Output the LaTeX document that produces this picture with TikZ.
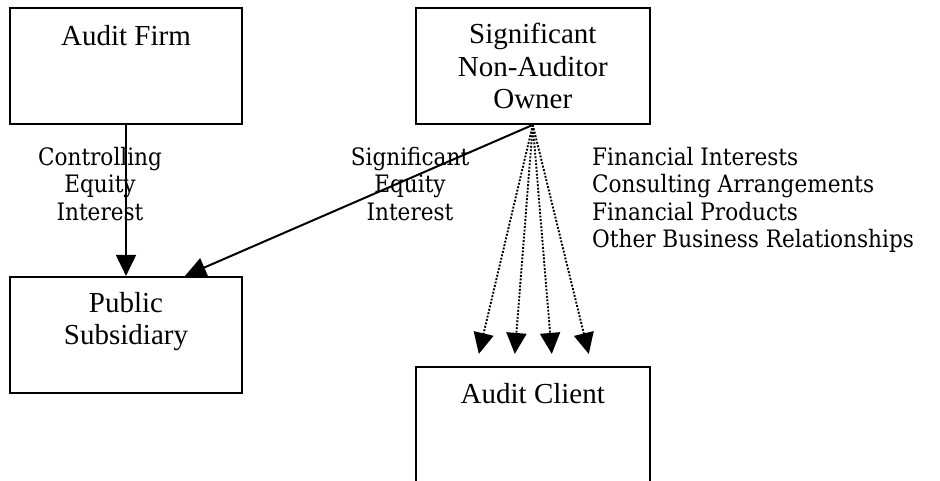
\documentclass[tikz,border=0pt]{standalone}
\usepackage{fontspec}
\usetikzlibrary{positioning,arrows.meta}
\newfontfamily\boxfont{Liberation Serif}
\newfontfamily\relfont{DejaVu Serif Condensed}

\tikzset{
    entity/.style={draw, line width=1.8pt, inner sep=0pt, minimum height=116pt,
      align=center, font=\boxfont\fontsize{29}{32.5}\selectfont},
    toptext/.style={text height=37pt, text depth=79pt},
    rel/.style={align=center, inner sep=0pt, font=\relfont\fontsize{24}{27.5}\selectfont},
    owns/.style={-{Triangle[width=20pt,length=21pt]}, line width=2pt},
    ties/.style={owns, line width=1.9pt, dash pattern=on 1.9pt off 1.6pt}
}

\begin{document}
\begin{tikzpicture}[x=1pt, y=-1pt]
    \useasboundingbox (0,0) rectangle (940,480);
    \node[entity, toptext, minimum width=232pt](firm) at (126,66){Audit Firm};
    \node[entity, minimum width=234pt, right=172pt of firm](owner){Significant\\Non-Auditor\\Owner};
    \node[entity, text height=68pt, text depth=48pt, minimum width=232pt, below=151pt of firm](subsid){Public\\Subsidiary};
    \node[entity, toptext, minimum width=234pt, below=241pt of owner](client){Audit Client};
    \foreach \dx [count=\i] in {-54,-18,19,56}
      \coordinate(c\i) at ([xshift=\dx pt, yshift=12pt]client.north);
    \draw[owns](firm) -- (subsid);
    \draw[owns](owner.south) -- ([xshift=59pt]subsid.north);
    \foreach \i in {1,...,4}
      \draw[ties](owner.south) -- (c\i);
    \node[rel, anchor=north](ctrl) at (100,147){Controlling\\Equity\\Interest};
    \node[rel, anchor=north](sig) at (410,147){Significant\\Equity\\Interest};
    \node[rel, align=left, anchor=north west](deals) at (592,147){Financial Interests\\Consulting Arrangements\\Financial Products\\Other Business Relationships};
\end{tikzpicture}
\end{document}
